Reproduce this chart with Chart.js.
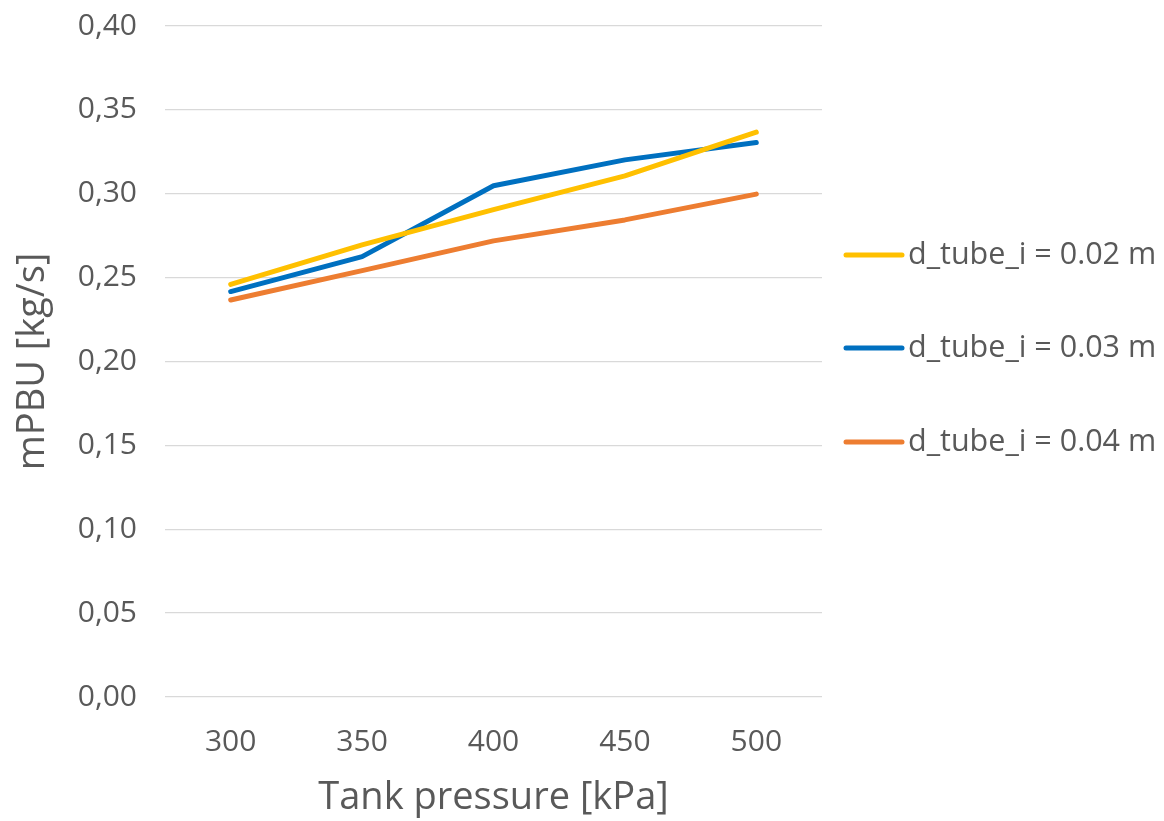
<!DOCTYPE html>
<html>
<head>
<meta charset="utf-8">
<script src="https://cdn.jsdelivr.net/npm/chart.js@4.4.1/dist/chart.umd.min.js"></script>
<style>
  html, body { margin: 0; padding: 0; background: #ffffff; }
  #wrap { width: 1164px; height: 821px; position: relative; }
</style>
</head>
<body>
<div id="wrap"><canvas id="c" width="1164" height="821"></canvas></div>
<script>
const categories = ['300', '350', '400', '450', '500'];
const seriesLabels = ['d_tube_i = 0.02 m', 'd_tube_i = 0.03 m', 'd_tube_i = 0.04 m'];
const series002 = [0.246, 0.2695, 0.2905, 0.3107, 0.3367];
const series003 = [0.2417, 0.2625, 0.3048, 0.3202, 0.3305];
const series004 = [0.2367, 0.2542, 0.2719, 0.2844, 0.2998];
const yTicks = [0, 0.05, 0.10, 0.15, 0.20, 0.25, 0.30, 0.35, 0.40];
const xTitle = 'Tank pressure [kPa]';
const yTitle = 'mPBU [kg/s]';

const colors = ['#FFC000', '#0070C0', '#ED7D31'];
const textColor = '#595959';
const FONT = "'Open Sans', 'DejaVu Sans', sans-serif";

const customLegend = {
  id: 'customLegend',
  afterDraw(chart, args, opts) {
    const ctx = chart.ctx;
    ctx.save();
    chart.data.datasets.forEach((ds, i) => {
      const y = opts.ys[i];
      ctx.strokeStyle = ds.borderColor;
      ctx.lineWidth = ds.borderWidth;
      ctx.lineCap = 'round';
      ctx.beginPath();
      ctx.moveTo(opts.x0, y);
      ctx.lineTo(opts.x1, y);
      ctx.stroke();
      ctx.fillStyle = textColor;
      ctx.font = opts.font;
      ctx.textBaseline = 'middle';
      ctx.textAlign = 'left';
      ctx.fillText(ds.label, opts.tx, y);
    });
    ctx.restore();
  }
};

const data = {
  labels: categories,
  datasets: [series002, series003, series004].map((vals, i) => ({
    label: seriesLabels[i],
    data: vals,
    borderColor: colors[i],
    backgroundColor: colors[i],
    borderWidth: 5,
    pointRadius: 0,
    pointHoverRadius: 0,
    tension: 0,
    borderCapStyle: 'round',
    borderJoinStyle: 'round',
    fill: false
  }))
};

new Chart(document.getElementById('c'), {
  type: 'line',
  data: data,
  options: {
    responsive: false,
    animation: false,
    devicePixelRatio: 1,
    layout: { padding: { left: 0, right: 342, top: 26, bottom: 0 } },
    plugins: {
      legend: { display: false },
      tooltip: { enabled: false },
      customLegend: {
        x0: 846, x1: 902, tx: 908,
        ys: [255, 348, 442],
        font: "30.5px " + FONT
      }
    },
    scales: {
      x: {
        type: 'category',
        offset: true,
        grid: { display: false },
        border: { display: false },
        ticks: { color: textColor, font: { family: FONT, size: 30 }, padding: 19, maxRotation: 0 },
        title: { display: true, text: xTitle, color: textColor, font: { family: FONT, size: 38 }, padding: { top: 0, bottom: 0 } },
        afterFit(scale) { scale.height = 124; }
      },
      y: {
        min: 0, max: 0.4,
        afterBuildTicks(scale) { scale.ticks = yTicks.map(v => ({ value: v })); },
        grid: { color: '#D9D9D9', lineWidth: 1.3, drawTicks: false },
        border: { display: false },
        ticks: {
          color: textColor, font: { family: FONT, size: 30 }, padding: 28,
          callback: (v) => Number(v).toFixed(2).replace('.', ',')
        },
        title: { display: true, text: yTitle, color: textColor, font: { family: FONT, size: 38 }, padding: { top: 10, bottom: 0 } },
        afterFit(scale) { scale.width = 165; scale.paddingTop = 0; scale.paddingBottom = 0; }
      }
    }
  },
  plugins: [customLegend]
});
</script>
</body>
</html>
